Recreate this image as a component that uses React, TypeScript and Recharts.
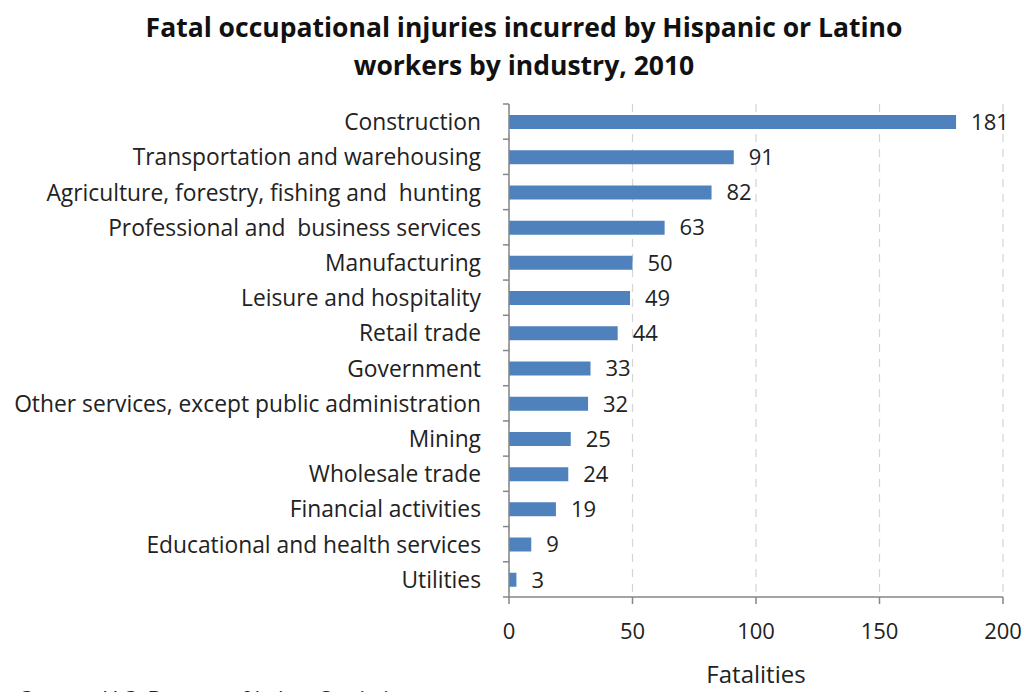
import React from 'react';
import { BarChart, Bar, XAxis, YAxis, CartesianGrid, LabelList } from 'recharts';

const categories = [
  'Construction',
  'Transportation and warehousing',
  'Agriculture, forestry, fishing and  hunting',
  'Professional and  business services',
  'Manufacturing',
  'Leisure and hospitality',
  'Retail trade',
  'Government',
  'Other services, except public administration',
  'Mining',
  'Wholesale trade',
  'Financial activities',
  'Educational and health services',
  'Utilities',
];
const fatalities = [181, 91, 82, 63, 50, 49, 44, 33, 32, 25, 24, 19, 9, 3];
const xTicks = [0, 50, 100, 150, 200];

const data = categories.map((c, i) => ({ name: c, value: fatalities[i] }));

const FONT = '"Open Sans", "Noto Sans", sans-serif';
const BAND = 493 / categories.length;

const YTick = (props: any) => {
  const { x, y, payload, index } = props;
  const axisX = x + 26;
  return (
    <g>
      <line x1={axisX - 6} x2={axisX} y1={y - BAND / 2} y2={y - BAND / 2} stroke="#868686" strokeWidth={1.5} />
      {index === categories.length - 1 && (
        <line x1={axisX - 6} x2={axisX} y1={y + BAND / 2} y2={y + BAND / 2} stroke="#868686" strokeWidth={1.5} />
      )}
      <text x={x - 2} y={y} textAnchor="end" dominantBaseline="central" fontSize={22.8} fill="#222" fontFamily={FONT} style={{ whiteSpace: 'pre' }}>
        {payload.value}
      </text>
    </g>
  );
};

export default function App() {
  return (
    <div style={{ position: 'absolute', left: 0, top: 0, width: 1028, height: 692, overflow: 'hidden', background: '#fff', fontFamily: FONT }}>
      <div style={{ position: 'absolute', left: 0, width: 1048, top: 8, textAlign: 'center', fontWeight: 700, fontSize: 26.5, lineHeight: '38px', color: '#111' }}>
        Fatal occupational injuries incurred by Hispanic or Latino
        <br />
        workers by industry, 2010
      </div>
      <div style={{ position: 'absolute', left: 20, top: 683, fontSize: 22, lineHeight: '30px', color: '#222', whiteSpace: 'nowrap' }}>
        Source: U.S. Bureau of Labor Statistics
      </div>
      <div style={{ position: 'absolute', left: 0, top: 0 }}>
        <BarChart
          width={1028}
          height={692}
          data={data}
          layout="vertical"
          margin={{ top: 104, right: 25, bottom: 15, left: 0 }}
          barCategoryGap={0}
        >
          <CartesianGrid horizontal={false} stroke="#d4d4d4" strokeDasharray="8 7" strokeWidth={1.2} />
          <XAxis
            type="number"
            domain={[0, 200]}
            ticks={xTicks}
            interval={0}
            height={80}
            tickSize={7}
            tickMargin={19}
            axisLine={{ stroke: '#868686', strokeWidth: 1.5 }}
            tickLine={{ stroke: '#868686', strokeWidth: 1.5 }}
            tick={{ fontSize: 22, fill: '#222', fontFamily: FONT }}
            label={{ value: 'Fatalities', position: 'insideBottom', offset: -6, fontSize: 24, fill: '#222', fontFamily: FONT }}
          />
          <YAxis
            type="category"
            dataKey="name"
            width={509}
            interval={0}
            tickLine={false}
            tickMargin={0}
            tickSize={26}
            axisLine={{ stroke: '#868686', strokeWidth: 1.5 }}
            tick={<YTick />}
          />
          <Bar dataKey="value" fill="#4F81BD" barSize={14} isAnimationActive={false}>
            <LabelList dataKey="value" position="right" offset={15} fontSize={22} fill="#222" fontFamily={FONT} />
          </Bar>
        </BarChart>
      </div>
    </div>
  );
}
